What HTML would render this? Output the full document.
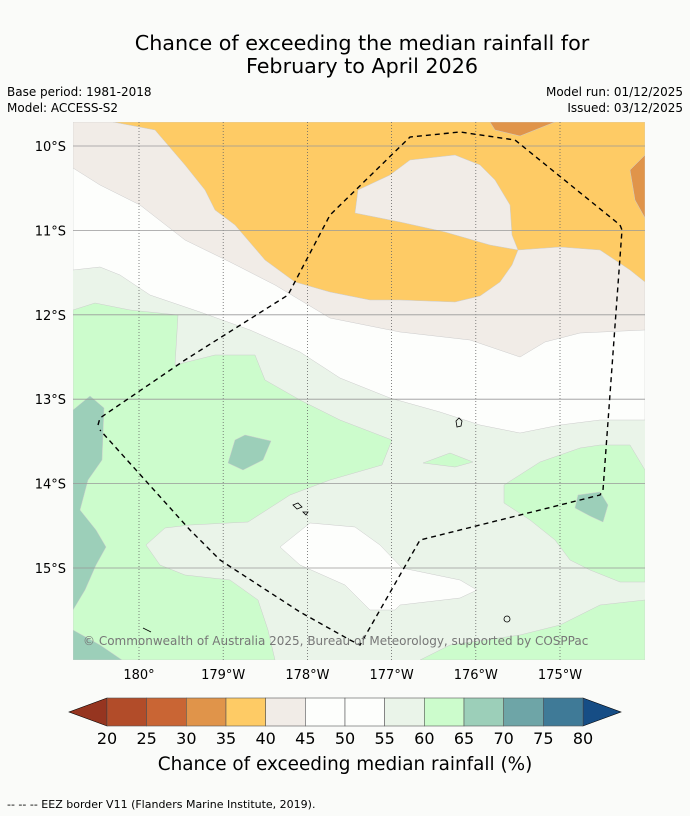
<!DOCTYPE html>
<html><head><meta charset="utf-8"><style>
body{margin:0;background:#fafbf9;font-family:"DejaVu Sans",sans-serif;}
#wrap{position:relative;width:690px;height:816px;overflow:hidden;background:#fafbf9}
</style></head><body>
<div id="wrap">
<svg id="svg" width="690" height="816" xmlns="http://www.w3.org/2000/svg" font-family="DejaVu Sans, sans-serif">
<text x="362" y="50" font-size="20.7" text-anchor="middle" fill="#000">Chance of exceeding the median rainfall for</text>
<text x="362" y="73" font-size="20.7" text-anchor="middle" fill="#000">February to April 2026</text>
<text x="7" y="96" font-size="12">Base period: 1981-2018</text>
<text x="7" y="112" font-size="12">Model: ACCESS-S2</text>
<text x="683" y="96" font-size="12" text-anchor="end">Model run: 01/12/2025</text>
<text x="683" y="112" font-size="12" text-anchor="end">Issued: 03/12/2025</text>
<defs><clipPath id="mc"><rect x="73" y="122" width="572" height="538"/></clipPath></defs>
<g id="map" clip-path="url(#mc)" stroke="#ccc" stroke-width="0.5">
<rect x="73" y="122" width="572" height="538" fill="#eaf4e9" stroke="none"/>
<polygon fill="#fdfefc" points="73,122 645,122 645,420 600,420 560,425 520,433 480,425 440,412 390,398 340,378 300,352 250,330 200,312 150,295 120,275 100,267 73,270"/>
<polygon fill="#f1ece7" points="73,122 645,122 645,330 580,333 545,342 520,357 470,340 400,332 330,318 275,285 230,262 185,240 140,205 100,185 73,168"/>
<polygon fill="#fecb65" points="113,122 645,122 645,282 630,270 600,250 560,247 518,250 512,265 500,282 480,296 455,302 400,300 370,300 330,292 295,282 265,260 235,225 215,210 205,190 185,165 155,130"/>
<polygon fill="#f1ece7" points="355,213 358,190 390,175 410,160 455,155 480,165 495,180 510,205 512,235 518,250 490,245 445,232 400,222"/>
<polygon fill="#e0944a" points="490,122 555,122 520,136 495,130"/>
<polygon fill="#e0944a" points="645,155 630,170 635,200 645,218"/>
<polygon fill="#ccfccc" points="73,310 95,303 130,310 178,315 175,365 215,355 255,355 265,380 300,400 340,420 392,440 382,465 330,480 290,495 248,522 190,525 165,528 146,545 160,565 185,575 230,580 258,600 268,630 275,660 73,660"/>
<polygon fill="#9ccfb9" points="73,410 90,396 104,408 102,460 88,480 80,510 96,530 106,547 96,565 85,590 73,610"/>
<polygon fill="#9ccfb9" points="73,630 100,645 122,660 73,660"/>
<polygon fill="#9ccfb9" points="235,440 245,435 271,441 263,460 243,470 228,463"/>
<polygon fill="#fdfefc" points="280,547 310,523 355,527 380,545 402,568 460,580 477,590 460,598 400,605 395,610 370,610 345,585 300,565"/>
<polygon fill="#ccfccc" points="504,485 540,462 580,448 600,445 630,445 645,470 645,582 620,582 590,570 570,560 555,540 530,520 504,503"/>
<polygon fill="#9ccfb9" points="578,495 600,492 608,505 603,522 590,516 575,508"/>
<polygon fill="#ccfccc" points="423,463 450,453 473,462 455,467"/>
<polygon fill="#ccfccc" points="420,660 450,645 520,635 560,625 600,605 645,600 645,660"/>
</g>
<g id="grid"></g>
<polyline fill="none" stroke="#000" stroke-width="1.4" stroke-dasharray="5,4" points="98,425 100,418 185,360 288,295 330,215 410,137 460,132 515,140 620,225 622,230 603,490 600,495 420,540 360,645 350,640 300,612 220,560 190,530 100,430"/>
<g fill="none" stroke="#000" stroke-width="0.8">
<path d="M456,421 l3,-3 l3,3 l-1,5 l-4,1 z"/><path d="M293,505 l5,-2 l4,4 l-5,2 z"/><path d="M303,512 l5,0 l-2,3 z"/><circle cx="507" cy="619" r="3"/><path d="M143,628 l8,4"/>
</g>
<text x="83" y="645" font-size="12" fill="#777">© Commonwealth of Australia 2025, Bureau of Meteorology, supported by COSPPac</text>
<g id="cbar"></g>
<text x="345" y="770" font-size="18.4" text-anchor="middle">Chance of exceeding median rainfall (%)</text>
<text x="7" y="808" font-size="11">--  --  -- EEZ border V11 (Flanders Marine Institute, 2019).</text>
</svg>
</div>
<script>
const NS='http://www.w3.org/2000/svg';
const lonLabels=['180°','179°W','178°W','177°W','176°W','175°W'];
const lonValues=[180,181,182,183,184,185];
const latLabels=['10°S','11°S','12°S','13°S','14°S','15°S'];
const latValues=[10,11,12,13,14,15];
const cbTicks=[20,25,30,35,40,45,50,55,60,65,70,75,80];
const cbColors=['#b24c29','#c96534','#e0944a','#fecb65','#f1ece7','#fdfefc','#fdfefc','#eaf4e9','#ccfccc','#9ccfb9','#6ea5a7','#3f7a97'];
const xLon=v=>139+(v-180)*84.2;
const yLat=v=>146+(v-10)*84.4;
const cx=v=>107+(v-20)/60*476;
const svg=document.getElementById('svg'), grid=document.getElementById('grid'), cb=document.getElementById('cbar');
function mk(tag,attrs,parent){const e=document.createElementNS(NS,tag);for(const k in attrs)e.setAttribute(k,attrs[k]);parent.appendChild(e);return e;}
lonValues.forEach((v,i)=>{const x=xLon(v);
 const l=mk('line',{x1:x,x2:x,y1:122,y2:660,stroke:'#666','stroke-width':0.8,'stroke-dasharray':'1,2'},grid);
 
 
 const t=mk('text',{x:x,y:679,'font-size':13,'text-anchor':'middle'},svg);t.textContent=lonLabels[i];
 
 
});
latValues.forEach((v,i)=>{const y=yLat(v);
 const l=mk('line',{x1:73,x2:645,y1:y,y2:y,stroke:'#999','stroke-width':0.8},grid);
 
 
 const t=mk('text',{x:66,y:y+5,'font-size':13,'text-anchor':'end'},svg);t.textContent=latLabels[i];
 
 
});
const tl=mk('polygon',{points:`${cx(20)},698 69,712 ${cx(20)},726`,fill:'#963520',stroke:'#000','stroke-width':0.6},cb);


const tr=mk('polygon',{points:`${cx(80)},698 621,712 ${cx(80)},726`,fill:'#164d85',stroke:'#000','stroke-width':0.6},cb);


cbColors.forEach((c,i)=>{const x0=cx(cbTicks[i]),x1=cx(cbTicks[i+1]);
 const r=mk('rect',{x:x0,y:698,width:x1-x0,height:28,fill:c,stroke:'#555','stroke-width':0.6},cb);
 
 
});
cbTicks.forEach(v=>{const t=mk('text',{x:cx(v),y:744,'font-size':16,'text-anchor':'middle'},cb);t.textContent=v;
 
 
});
</script>
</body></html>
